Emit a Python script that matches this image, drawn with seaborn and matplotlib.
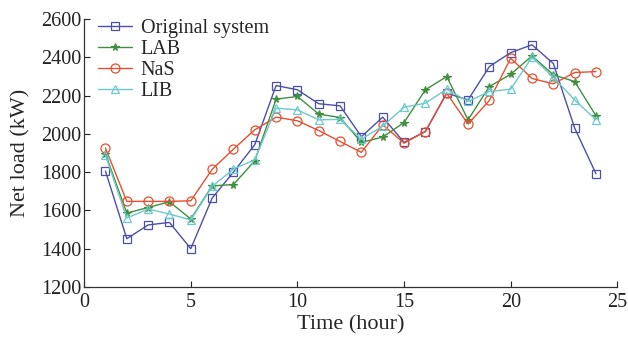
import matplotlib
matplotlib.use("Agg")
import matplotlib.pyplot as plt
import seaborn as sns
import pandas as pd

hours = list(range(1, 25))
original = [1805, 1452, 1524, 1537, 1400, 1664, 1800, 1943, 2252, 2230, 2157, 2146,
            1985, 2087, 1955, 2012, 2212, 2177, 2351, 2424, 2465, 2367, 2030, 1791]
lab = [1894, 1586, 1615, 1645, 1555, 1728, 1735, 1859, 2181, 2195, 2103, 2085,
       1955, 1983, 2059, 2230, 2299, 2073, 2247, 2311, 2407, 2308, 2273, 2094]
nas = [1925, 1647, 1647, 1647, 1650, 1814, 1920, 2021, 2087, 2068, 2017, 1960,
       1903, 2047, 1951, 2012, 2212, 2051, 2174, 2395, 2289, 2261, 2320, 2325]
lib = [1888, 1560, 1607, 1581, 1550, 1725, 1816, 1864, 2134, 2125, 2073, 2075,
       1972, 2040, 2139, 2160, 2233, 2169, 2221, 2233, 2400, 2295, 2177, 2073]

series_names = ["Original system", "LAB", "NaS", "LIB"]
series_values = [original, lab, nas, lib]
colors = ["#4b4fa8", "#3f8f3f", "#e4502f", "#6cc9cc"]
markers = ["s", "*", "o", "^"]

df = pd.concat(
    [pd.DataFrame({"Time": hours, "Load": v, "Series": n})
     for n, v in zip(series_names, series_values)],
    ignore_index=True,
)

sns.set_theme(style="ticks")
plt.rcParams["font.family"] = ["Liberation Serif", "DejaVu Serif"]

fig = plt.figure(figsize=(6.28, 3.38), dpi=100)
ax = fig.add_axes([0.134, 0.151, 0.849, 0.793])

for name, col, mk in zip(series_names, colors, markers):
    sub = df[df["Series"] == name]
    filled = mk == "*"
    sns.lineplot(
        data=sub, x="Time", y="Load", ax=ax, color=col, label=name,
        linewidth=1.0, marker=mk,
        markersize={"s": 5.5, "*": 5.5, "o": 6.5, "^": 6}[mk],
        markerfacecolor=col if filled else "none",
        markeredgecolor=col, markeredgewidth=0.9,
    )

ax.set_xlim(0, 25)
ax.set_ylim(1200, 2600)
ax.set_xticks([0, 5, 10, 15, 20, 25])
ax.set_yticks(range(1200, 2601, 200))
ax.tick_params(direction="in", length=4, width=0.8, labelsize=14.5, colors="#222222")
ax.tick_params(axis="y", pad=2)
ax.tick_params(axis="x", pad=4)
for s in ["top", "right"]:
    ax.spines[s].set_visible(False)
for s in ["left", "bottom"]:
    ax.spines[s].set_color("#333333")
    ax.spines[s].set_linewidth(0.9)

ax.set_xlabel("Time (hour)", fontsize=16, labelpad=3)
ax.set_ylabel("Net load (kW)", fontsize=16, labelpad=8)

leg = ax.legend(loc="upper left", frameon=False, fontsize=14.5,
                handlelength=1.7, handletextpad=0.45, labelspacing=0.1,
                borderaxespad=0.0, bbox_to_anchor=(0.01, 1.03))

fig.savefig("out.png", dpi=100)
